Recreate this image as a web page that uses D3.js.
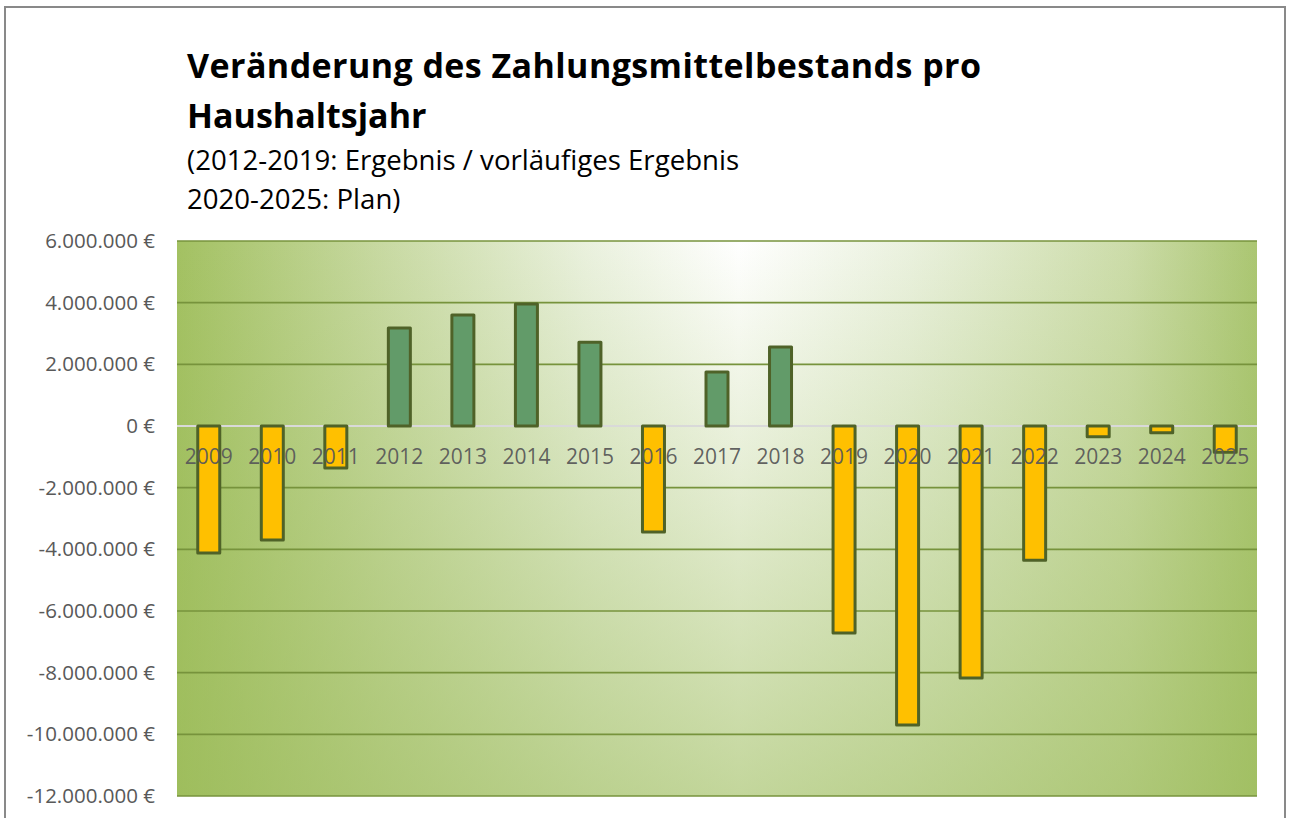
<!DOCTYPE html>
<html>
<head>
<meta charset="utf-8">
<script src="https://cdn.jsdelivr.net/npm/d3@7"></script>
<style>
  body { margin: 0; background: #fff; }
  text { font-family: "Open Sans", sans-serif; }
</style>
</head>
<body>
<div id="chart-area"></div>
<script>
// data
const years = ["2009", "2010", "2011", "2012", "2013", "2014", "2015", "2016", "2017",
  "2018", "2019", "2020", "2021", "2022", "2023", "2024", "2025"];
const values = [-4120000, -3700000, -1360000, 3180000, 3600000, 3960000, 2720000, -3440000,
  1750000, 2560000, -6710000, -9700000, -8170000, -4350000, -350000, -220000, -850000];
const yTicks = [6000000, 4000000, 2000000, 0, -2000000, -4000000, -6000000, -8000000,
  -10000000, -12000000];
const titleLines = ["Veränderung des Zahlungsmittelbestands pro", "Haushaltsjahr"];
const subLines = ["(2012-2019: Ergebnis / vorläufiges Ergebnis", "2020-2025: Plan)"];

const W = 1291, H = 818;
const MARGIN = { LEFT: 177, RIGHT: 34, TOP: 241, BOTTOM: 22 };
const WIDTH = W - MARGIN.LEFT - MARGIN.RIGHT;
const HEIGHT = H - MARGIN.TOP - MARGIN.BOTTOM;

const svg = d3.select("#chart-area").append("svg")
  .attr("width", W)
  .attr("height", H);

// outer frame
svg.append("rect")
  .attr("x", 5).attr("y", 7)
  .attr("width", 1280).attr("height", 830)
  .attr("fill", "#fff")
  .attr("stroke", "#898989")
  .attr("stroke-width", 2);

// background: horizontal light-centre gradient + green fade downwards
const defs = svg.append("defs");
const hGrad = defs.append("linearGradient")
  .attr("id", "bgH")
  .attr("x1", 0).attr("x2", 1).attr("y1", 0).attr("y2", 0);
[["0%", "#a3c162"], ["18%", "#c6d89f"], ["38%", "#eaf1de"], ["52%", "#ffffff"],
  ["68%", "#eaf1de"], ["88%", "#ccdca9"], ["100%", "#abc672"]]
  .forEach(s => hGrad.append("stop").attr("offset", s[0]).attr("stop-color", s[1]));

const vGrad = defs.append("linearGradient")
  .attr("id", "bgV")
  .attr("x1", 0).attr("x2", 0).attr("y1", 0).attr("y2", 1);
vGrad.append("stop").attr("offset", "0%").attr("stop-color", "#9bbb59").attr("stop-opacity", 0);
vGrad.append("stop").attr("offset", "100%").attr("stop-color", "#9bbb59").attr("stop-opacity", 0.6);

const g = svg.append("g")
  .attr("transform", `translate(${MARGIN.LEFT}, ${MARGIN.TOP})`);

g.append("rect")
  .attr("width", WIDTH)
  .attr("height", HEIGHT)
  .attr("fill", "url(#bgH)");
g.append("rect")
  .attr("width", WIDTH)
  .attr("height", HEIGHT)
  .attr("fill", "url(#bgV)");

// scales
const x = d3.scaleBand().domain(years).range([0, WIDTH]).padding(0);
const y = d3.scaleLinear().domain([-12000000, 6000000]).range([HEIGHT, 0]);

const fmt = v => d3.format(",")(v).replace(/,/g, ".").replace("−", "-") + " €";

// gridlines
g.append("g")
  .selectAll("line")
  .data(yTicks.filter(d => d !== 0))
  .join("line")
  .attr("x1", 0).attr("x2", WIDTH)
  .attr("y1", d => y(d)).attr("y2", d => y(d))
  .attr("stroke", "#77933c")
  .attr("stroke-width", 1.6);

// y axis labels
const yAxis = g.append("g")
  .call(d3.axisLeft(y).tickValues(yTicks).tickFormat(fmt).tickSize(0).tickPadding(22));
yAxis.select(".domain").remove();
yAxis.selectAll("text")
  .attr("font-size", "20.5px")
  .attr("fill", "#595959")
  .style("font-family", "'Open Sans', sans-serif");

// zero line
g.append("line")
  .attr("x1", 0).attr("x2", WIDTH)
  .attr("y1", y(0)).attr("y2", y(0))
  .attr("stroke", "#d9d9d9")
  .attr("stroke-width", 2);

// bars
const barW = 22;
g.append("g")
  .selectAll("rect")
  .data(values)
  .join("rect")
  .attr("x", (d, i) => x(years[i]) + x.bandwidth() / 2 - barW / 2)
  .attr("y", d => y(Math.max(0, d)))
  .attr("width", barW)
  .attr("height", d => Math.abs(y(d) - y(0)))
  .attr("fill", d => d >= 0 ? "#629b69" : "#ffc000")
  .attr("stroke", "#4f6228")
  .attr("stroke-width", 3)
  .attr("stroke-linejoin", "round");

// x labels
g.append("g")
  .selectAll("text")
  .data(years)
  .join("text")
  .attr("x", d => x(d) + x.bandwidth() / 2)
  .attr("y", y(0) + 38)
  .attr("text-anchor", "middle")
  .attr("font-size", "21px")
  .attr("fill", "#595959")
  .attr("fill-opacity", 0.95)
  .text(d => d);

// title
svg.append("g")
  .selectAll("text")
  .data(titleLines)
  .join("text")
  .attr("x", 187)
  .attr("y", (d, i) => 78 + i * 50)
  .attr("font-size", "34px")
  .attr("font-weight", "bold")
  .attr("fill", "#000")
  .attr("textLength", (d, i) => i === 0 ? 794 : null)
  .text(d => d);

svg.append("g")
  .selectAll("text")
  .data(subLines)
  .join("text")
  .attr("x", 187)
  .attr("y", (d, i) => 170 + i * 39)
  .attr("font-size", "27.6px")
  .attr("fill", "#000")
  .text(d => d);
</script>
</body>
</html>
